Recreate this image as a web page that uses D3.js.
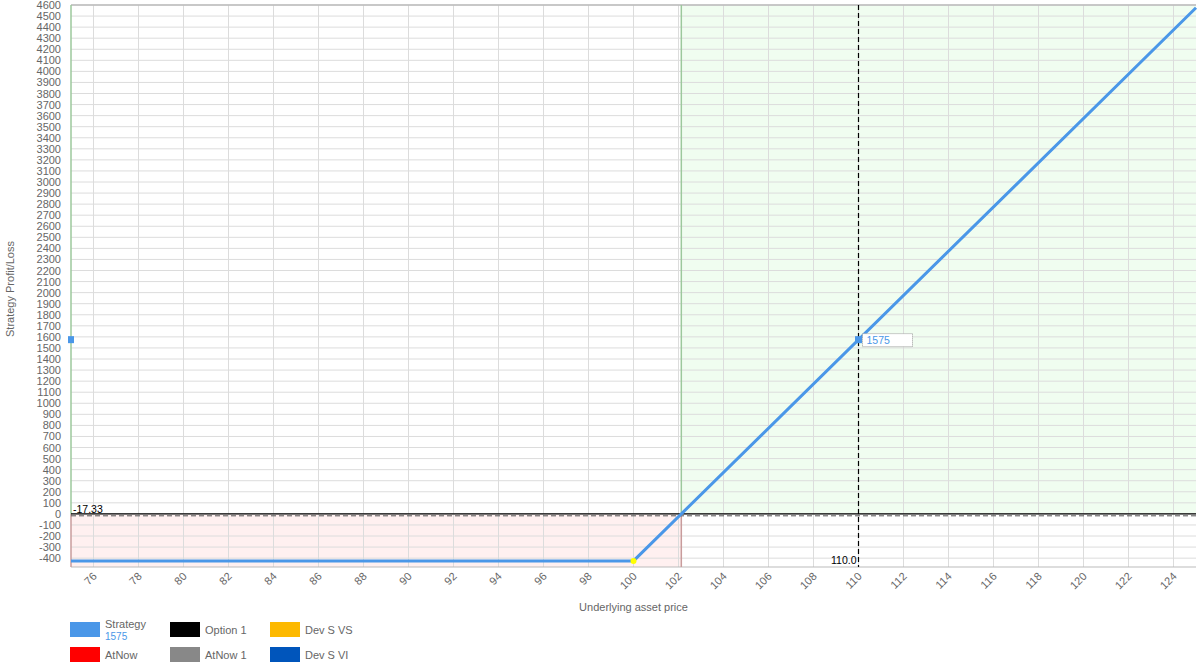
<!DOCTYPE html>
<html><head><meta charset="utf-8">
<script src="https://cdn.jsdelivr.net/npm/d3@7"></script>
<style>
body{margin:0;background:#fff;font-family:Arial,"Liberation Sans",Helvetica,sans-serif;}
svg text{font-family:Arial,"Liberation Sans",Helvetica,sans-serif;}
</style></head>
<body><svg id="c" width="1202" height="668"></svg>
<script>
// Data
const prices = [75, 100, 125];
const strategyPL = [-425, -425, 4575];
const breakeven = 102.125;
const cursorPrice = 110;
const cursorValue = 1575;
const nowLevel = -17.33;
const xTickValues = [76,78,80,82,84,86,88,90,92,94,96,98,100,102,104,106,108,110,112,114,116,118,120,122,124];
const yTickValues = d3.range(-400, 4601, 100);
const legendNames = ["Strategy","Option 1","Dev S VS","AtNow","AtNow 1","Dev S VI"];
const legendColors = ["#4a97e8","#000000","#fdb900","#ff0000","#888888","#0055bb"];

const svg = d3.select("#c");
const L=71, R=1196, T=5, B=567;
const x = d3.scaleLinear().domain([75,125]).range([L,R]);
const y = d3.scaleLinear().domain([-480,4600]).range([B,T]);

// shaded regions
svg.append("rect").attr("x",L).attr("y",y(0)).attr("width",x(breakeven)-L).attr("height",B-y(0)).attr("fill","#fff0f0");
svg.append("rect").attr("x",x(breakeven)).attr("y",T).attr("width",R-x(breakeven)).attr("height",y(0)-T).attr("fill","#f0fdf0");

// grid
svg.append("g").selectAll("line").data(yTickValues).join("line")
  .attr("x1",L).attr("x2",R).attr("y1",d=>y(d)).attr("y2",d=>y(d)).attr("stroke","#dcdcdc").attr("stroke-width",1);
svg.append("g").selectAll("line").data(xTickValues).join("line")
  .attr("y1",T).attr("y2",B).attr("x1",d=>x(d)).attr("x2",d=>x(d)).attr("stroke","#dcdcdc").attr("stroke-width",1);

// border
svg.append("line").attr("x1",L).attr("x2",R).attr("y1",T).attr("y2",T).attr("stroke","#bbb").attr("stroke-width",1.5);
svg.append("line").attr("x1",L).attr("x2",R).attr("y1",B).attr("y2",B).attr("stroke","#bbb").attr("stroke-width",1);
// left edge and breakeven lines
[L, x(breakeven)].forEach(px=>{
  svg.append("line").attr("x1",px).attr("x2",px).attr("y1",T).attr("y2",y(0)).attr("stroke","#9cc89c").attr("stroke-width",1.5);
  svg.append("line").attr("x1",px).attr("x2",px).attr("y1",y(0)).attr("y2",B).attr("stroke","#c89c9c").attr("stroke-width",1.5);
});

// zero & now lines
svg.append("line").attr("x1",L).attr("x2",R).attr("y1",y(0)).attr("y2",y(0)).attr("stroke","#000").attr("stroke-width",1.2);
svg.append("line").attr("x1",L).attr("x2",R).attr("y1",y(nowLevel)).attr("y2",y(nowLevel)).attr("stroke","#555").attr("stroke-width",1).attr("stroke-dasharray","5,3");
svg.append("text").attr("x",L+2).attr("y",y(0)-1).attr("font-size",10.5).attr("fill","#000").text(nowLevel.toFixed(2));

// cursor line
svg.append("line").attr("x1",x(cursorPrice)).attr("x2",x(cursorPrice)).attr("y1",T).attr("y2",B).attr("stroke","#000").attr("stroke-width",1.2).attr("stroke-dasharray","5,3");
svg.append("text").attr("x",x(cursorPrice)-2).attr("y",B-3).attr("text-anchor","end").attr("font-size",10.5).attr("fill","#000").text(cursorPrice.toFixed(1));

// strategy line
const line = d3.line().x((d,i)=>x(prices[i])).y(d=>y(d));
svg.append("path").datum(strategyPL).attr("d",line).attr("fill","none").attr("stroke","#4a97e8").attr("stroke-width",3);

// yellow dot
svg.append("circle").attr("cx",x(prices[1])).attr("cy",y(strategyPL[1])).attr("r",3).attr("fill","#ffff00");

// markers
svg.append("rect").attr("x",x(cursorPrice)-3.5).attr("y",y(cursorValue)-3.5).attr("width",7).attr("height",7).attr("fill","#4a97e8");
svg.append("rect").attr("x",L-3).attr("y",y(cursorValue)-3.5).attr("width",6).attr("height",7).attr("fill","#4a97e8");
svg.append("rect").attr("x",x(cursorPrice)+4).attr("y",y(cursorValue)-6).attr("width",50).attr("height",13).attr("fill","#fff").attr("stroke","#999").attr("stroke-dasharray","1,1");
svg.append("text").attr("x",x(cursorPrice)+8).attr("y",y(cursorValue)+4).attr("font-size",10.5).attr("fill","#4a97e8").text(cursorValue);

// y axis labels
svg.append("g").selectAll("text").data(yTickValues).join("text")
  .attr("x",L-10).attr("y",d=>y(d)+4).attr("text-anchor","end").attr("font-size",11).attr("fill","#666").text(d=>d);
// x axis labels
svg.append("g").selectAll("text").data(xTickValues).join("text")
  .attr("transform",d=>`translate(${x(d)+4},${B+10}) rotate(-45)`).attr("text-anchor","end").attr("font-size",11).attr("fill","#666").text(d=>d);

// axis titles
svg.append("text").attr("transform",`translate(14,${(T+B)/2+3}) rotate(-90)`).attr("text-anchor","middle").attr("font-size",11).attr("fill","#666").text("Strategy Profit/Loss");
svg.append("text").attr("x",(L+R)/2).attr("y",611).attr("text-anchor","middle").attr("font-size",11).attr("fill","#666").text("Underlying asset price");

// legend
const lg = svg.append("g");
legendNames.forEach((n,i)=>{
  const col=i%3, row=Math.floor(i/3);
  const gx=70+col*100, gy=622+row*25;
  lg.append("rect").attr("x",gx).attr("y",gy).attr("width",30).attr("height",15).attr("fill",legendColors[i]);
  if(i===0){
    lg.append("text").attr("x",gx+35).attr("y",gy+6).attr("font-size",11).attr("fill","#666").text(n);
    lg.append("text").attr("x",gx+35).attr("y",gy+18).attr("font-size",10).attr("fill","#4a97e8").text(cursorValue);
  } else {
    lg.append("text").attr("x",gx+35).attr("y",gy+11.5).attr("font-size",11).attr("fill","#666").text(n);
  }
});
</script></body></html>
